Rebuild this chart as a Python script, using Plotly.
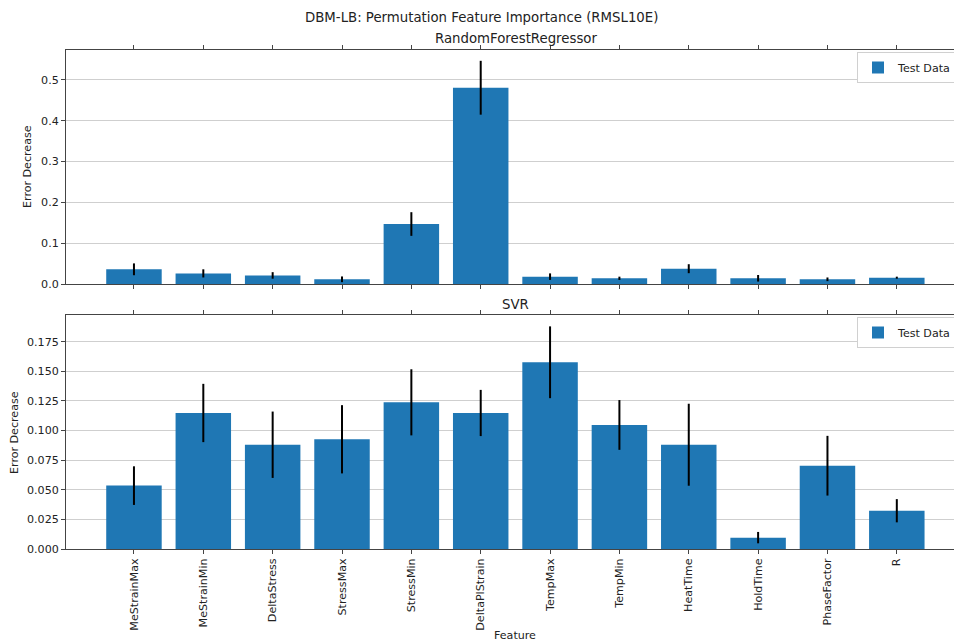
import plotly.graph_objects as go

features = ["MeStrainMax", "MeStrainMin", "DeltaStress", "StressMax", "StressMin", "DeltaPlStrain",
            "TempMax", "TempMin", "HeatTime", "HoldTime", "PhaseFactor", "R"]

rf_values = [0.036, 0.026, 0.021, 0.0115, 0.147, 0.481, 0.018, 0.014, 0.0375, 0.014, 0.0115, 0.0155]
rf_errors = [0.0145, 0.010, 0.008, 0.007, 0.029, 0.066, 0.008, 0.004, 0.011, 0.008, 0.0045, 0.0025]

svr_values = [0.0535, 0.1148, 0.088, 0.0926, 0.1238, 0.1148, 0.1576, 0.1047, 0.088, 0.0096, 0.0703, 0.0323]
svr_errors = [0.0163, 0.0246, 0.028, 0.0288, 0.0279, 0.0195, 0.0303, 0.021, 0.0346, 0.0048, 0.0252, 0.0098]

OFF = 8  # page body margin
W, H = 962 - OFF, 643 - OFF
FONT = "DejaVu Sans"
TXT = "#222222"
BLUE = "#1f77b4"
TICK = 11.1
TITLE = 13.3
x_idx = list(range(len(features)))


def px(v):
    return (v - OFF) / W


def py(v):
    return 1 - (v - OFF) / H


fig = go.Figure()
fig.add_trace(go.Bar(x=x_idx, y=rf_values, width=0.8, marker=dict(color=BLUE, line=dict(width=0)),
                     error_y=dict(type="data", array=rf_errors, color="black", thickness=2, width=0),
                     name="Test Data", xaxis="x", yaxis="y", legend="legend"))
fig.add_trace(go.Bar(x=x_idx, y=svr_values, width=0.8, marker=dict(color=BLUE, line=dict(width=0)),
                     error_y=dict(type="data", array=svr_errors, color="black", thickness=2, width=0),
                     name="Test Data", xaxis="x2", yaxis="y2", legend="legend2"))

xrange = [-0.98, 11.94]
common_x = dict(range=xrange, showgrid=False, zeroline=False, showline=True, linecolor="#444",
                linewidth=1, mirror="ticks", ticks="outside", ticklen=4, tickcolor="#444",
                tickvals=x_idx, automargin=False)
common_y = dict(showgrid=True, gridcolor="#cfcfcf", gridwidth=1, zeroline=False, showline=True,
                linecolor="#444", linewidth=1, ticks="outside", ticklen=4, tickcolor="#444",
                automargin=False, tickfont=dict(family=FONT, size=TICK, color=TXT))

fig.update_layout(
    width=W, height=H,
    margin=dict(l=0, r=0, t=0, b=0),
    paper_bgcolor="white", plot_bgcolor="white",
    font=dict(family=FONT, color=TXT, size=TICK),
    xaxis=dict(domain=[px(66), 1.0], anchor="y", showticklabels=False, **common_x),
    yaxis=dict(domain=[py(284), py(50)], anchor="x", range=[0, 0.5735],
               tickvals=[0, 0.1, 0.2, 0.3, 0.4, 0.5], ticktext=["0.0", "0.1", "0.2", "0.3", "0.4", "0.5"],
               **common_y),
    xaxis2=dict(domain=[px(66), 1.0], anchor="y2", ticktext=features, tickangle=-90,
                tickfont=dict(family=FONT, size=TICK, color=TXT), **common_x),
    yaxis2=dict(domain=[py(549), py(315)], anchor="x2", range=[0, 0.1975],
                tickvals=[0, 0.025, 0.05, 0.075, 0.1, 0.125, 0.15, 0.175],
                ticktext=["0.000", "0.025", "0.050", "0.075", "0.100", "0.125", "0.150", "0.175"],
                **common_y),
    legend=dict(x=px(957), y=py(52), xanchor="right", yanchor="top", bgcolor="white",
                bordercolor="#d0d0d0", borderwidth=1, itemwidth=30,
                font=dict(family=FONT, size=TICK, color=TXT)),
    legend2=dict(x=px(957), y=py(317), xanchor="right", yanchor="top", bgcolor="white",
                 bordercolor="#d0d0d0", borderwidth=1, itemwidth=30,
                 font=dict(family=FONT, size=TICK, color=TXT)),
    showlegend=True,
)


def ann(text, x, y, size, angle=0):
    fig.add_annotation(text=text, x=px(x), y=py(y), xref="paper", yref="paper",
                       showarrow=False, xanchor="center", yanchor="middle", textangle=angle,
                       font=dict(family=FONT, size=size, color=TXT))


ann("DBM-LB: Permutation Feature Importance (RMSL10E)", 481, 17, TITLE)
ann("RandomForestRegressor", 516, 38, TITLE)
ann("SVR", 516, 304, TITLE)
ann("Feature", 515, 635, TICK)
ann("Error Decrease", 28, 167, TICK, -90)
ann("Error Decrease", 14, 433, TICK, -90)

fig.write_html("out.html")
